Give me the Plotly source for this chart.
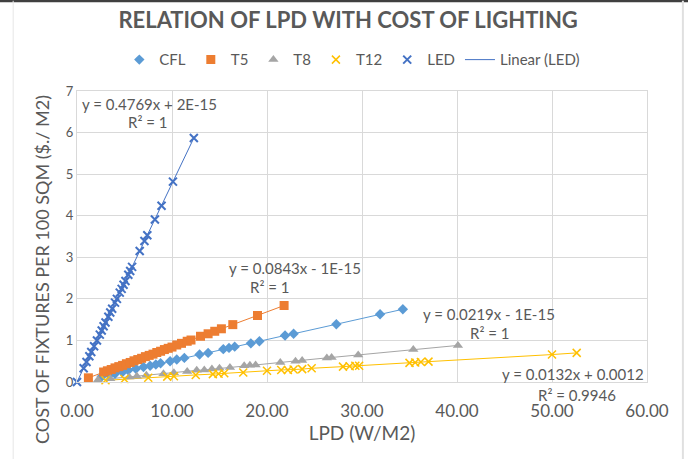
import plotly.graph_objects as go

# data
cfl_x = [2.6, 3.4, 4.0, 4.8, 5.4, 6.2, 7.0, 7.7, 8.3, 8.8, 9.8, 10.5, 11.3, 12.9, 13.8,
         15.4, 16.0, 16.6, 18.3, 19.2, 21.9, 22.8, 27.3, 31.9, 34.3]
cfl_y = [0.13, 0.17, 0.20, 0.24, 0.28, 0.32, 0.36, 0.39, 0.42, 0.45, 0.50, 0.54, 0.58, 0.66, 0.70,
         0.79, 0.82, 0.85, 0.93, 0.98, 1.12, 1.16, 1.39, 1.63, 1.75]

t5_x = [1.2, 2.8, 3.2, 3.6, 4.0, 4.4, 4.8, 5.2, 5.6, 6.0, 6.4, 6.8, 7.2, 7.6, 8.0, 8.4,
        8.8, 9.2, 9.6, 10.0, 10.5, 11.0, 11.6, 12.0, 13.0, 13.8, 14.5, 15.2, 16.4, 19.0, 21.8]
t5_y = [0.10, 0.24, 0.27, 0.30, 0.34, 0.37, 0.40, 0.44, 0.47, 0.51, 0.54, 0.57, 0.61, 0.64, 0.67, 0.71,
        0.74, 0.78, 0.81, 0.84, 0.89, 0.93, 0.98, 1.01, 1.10, 1.16, 1.22, 1.28, 1.38, 1.60, 1.84]

t8_x = [2.2, 3.5, 5.5, 6.3, 7.3, 9.1, 10.2, 11.6, 12.6, 13.4, 14.2, 15.0, 16.1, 17.6, 18.2,
        18.8, 21.4, 23.0, 23.7, 26.3, 26.8, 29.6, 35.4, 40.1]
t8_y = [0.05, 0.08, 0.12, 0.14, 0.16, 0.20, 0.22, 0.25, 0.28, 0.29, 0.31, 0.33, 0.35, 0.39, 0.40,
        0.41, 0.47, 0.50, 0.52, 0.58, 0.59, 0.65, 0.78, 0.88]

t12_x = [3.0, 5.0, 7.5, 9.5, 10.2, 12.5, 14.3, 14.9, 15.5, 17.5, 20.0, 21.5, 22.2, 22.8, 23.7,
         24.7, 28.0, 28.7, 29.3, 29.7, 35.0, 35.6, 36.2, 37.0, 50.0, 52.6]
t12_y = [0.04, 0.07, 0.10, 0.13, 0.14, 0.17, 0.19, 0.20, 0.21, 0.23, 0.27, 0.29, 0.29, 0.30, 0.31,
         0.33, 0.37, 0.38, 0.39, 0.39, 0.46, 0.47, 0.48, 0.49, 0.66, 0.70]

led_x = [0.0, 0.7, 1.0, 1.3, 1.5, 1.8, 2.1, 2.4, 2.6, 2.8, 3.0, 3.3, 3.5, 3.7, 4.0, 4.2,
         4.5, 4.7, 4.9, 5.1, 5.4, 5.6, 5.8, 6.6, 7.1, 7.4, 8.2, 8.9, 10.1, 12.3]
led_y = [0.00, 0.33, 0.48, 0.62, 0.72, 0.86, 1.00, 1.14, 1.24, 1.34, 1.43, 1.57, 1.67, 1.76, 1.91, 2.00,
         2.15, 2.24, 2.34, 2.43, 2.58, 2.67, 2.77, 3.15, 3.39, 3.53, 3.91, 4.24, 4.82, 5.87]

x_ticks = [0, 10, 20, 30, 40, 50, 60]
y_ticks = [0, 1, 2, 3, 4, 5, 6, 7]

# trendline labels: text, x (data), y (data), anchor
equations = [
    ('y = 0.4769x + 2E-15', 0.3, 6.69, 'left'),
    ('R² = 1', 7.5, 6.25, 'center'),
    ('y = 0.0843x - 1E-15', 15.8, 2.74, 'left'),
    ('R² = 1', 20.3, 2.29, 'center'),
    ('y = 0.0219x - 1E-15', 36.2, 1.64, 'left'),
    ('R² = 1', 43.5, 1.18, 'center'),
    ('y = 0.0132x + 0.0012', 44.5, 0.19, 'left'),
    ('R² = 0.9946', 52.6, -0.31, 'center'),
]

grey = '#595959'
font_family = 'Lato, Open Sans, sans-serif'

series = [
    ('CFL', cfl_x, cfl_y, '#5B9BD5', dict(symbol='diamond', size=8, color='#5B9BD5')),
    ('T5', t5_x, t5_y, '#ED7D31', dict(symbol='square', size=9, color='#ED7D31')),
    ('T8', t8_x, t8_y, '#A5A5A5', dict(symbol='triangle-up', size=9, color='#A5A5A5')),
    ('T12', t12_x, t12_y, '#FFC000', dict(symbol='x-thin', size=8, line=dict(color='#FFC000', width=1.5))),
    ('LED', led_x, led_y, '#4472C4', dict(symbol='x-thin', size=8, line=dict(color='#4472C4', width=2))),
]

fig = go.Figure()

# thin connecting lines first (no legend entry), LED one is the "Linear (LED)" entry
for name, xs, ys, col, mk in series:
    if name == 'LED':
        continue
    fig.add_trace(go.Scatter(x=xs, y=ys, mode='lines', showlegend=False, cliponaxis=False,
                             line=dict(color=col, width=1), hoverinfo='skip'))

for name, xs, ys, col, mk in series:
    fig.add_trace(go.Scatter(x=xs, y=ys, name=name, mode='markers', cliponaxis=False, marker=mk))

fig.add_trace(go.Scatter(
    x=led_x, y=led_y, name='Linear (LED)', mode='lines', cliponaxis=False,
    line=dict(color='#4472C4', width=1)
))

for text, ax, ay, anchor in equations:
    # y given as paper fraction so labels under the axis still show
    fig.add_annotation(x=ax, y=ay / 7, yref='paper', text=text, showarrow=False,
                       xanchor=anchor, yanchor='middle',
                       font=dict(size=15, color=grey, family=font_family))

# y axis title as annotation (sits lower than the plot centre in the reference)
fig.add_annotation(x=-0.0614, y=0.385, xref='paper', yref='paper', textangle=-90,
                   text='COST OF FIXTURES PER 100 SQM ($./ M2)', showarrow=False,
                   xanchor='center', yanchor='middle',
                   font=dict(size=18, color=grey, family=font_family))

# outer frame of the screenshot
fig.add_shape(type='line', xref='paper', yref='paper', x0=-0.15, x1=1.1, y0=1.31, y1=1.31,
              line=dict(color='#404040', width=3))
fig.add_shape(type='line', xref='paper', yref='paper', x0=-0.112, x1=-0.112, y0=-0.28, y1=1.31,
              line=dict(color='#E6E6E6', width=1))
fig.add_shape(type='line', xref='paper', yref='paper', x0=1.063, x1=1.063, y0=-0.28, y1=1.31,
              line=dict(color='#E0E0E0', width=2))

fig.update_layout(
    width=688, height=459,
    margin=dict(l=77, r=41, t=91, b=77),
    paper_bgcolor='white', plot_bgcolor='white',
    font=dict(family=font_family, color=grey, size=15),
    title=dict(text='<b>RELATION OF LPD WITH COST OF LIGHTING</b>', x=0.506, xanchor='center',
               y=0.956, yanchor='middle', font=dict(size=22, color=grey, family=font_family)),
    legend=dict(orientation='h', x=0.483, xanchor='center', y=1.107, yanchor='middle',
                font=dict(size=15, color=grey), itemwidth=30, tracegroupgap=0),
    xaxis=dict(range=[0, 60], tickvals=x_ticks, ticktext=[f'{v:.2f}' for v in x_ticks],
               showgrid=True, gridcolor='#D9D9D9', zeroline=False,
               ticks='', tickfont=dict(size=17, color=grey), ticklabelstandoff=14,
               title=dict(text='LPD (W/M2)', font=dict(size=19, color=grey), standoff=6)),
    yaxis=dict(range=[0, 7], tickvals=y_ticks, showgrid=True, gridcolor='#D9D9D9',
               zeroline=False, ticks='', tickfont=dict(size=13, color=grey)),
)
fig.update_xaxes(showline=True, linecolor='#D9D9D9', mirror=True)
fig.update_yaxes(showline=True, linecolor='#D9D9D9', mirror=True)

fig.write_html('out.html', config={'displayModeBar': False},
               post_script="document.body.style.margin='0px';")
